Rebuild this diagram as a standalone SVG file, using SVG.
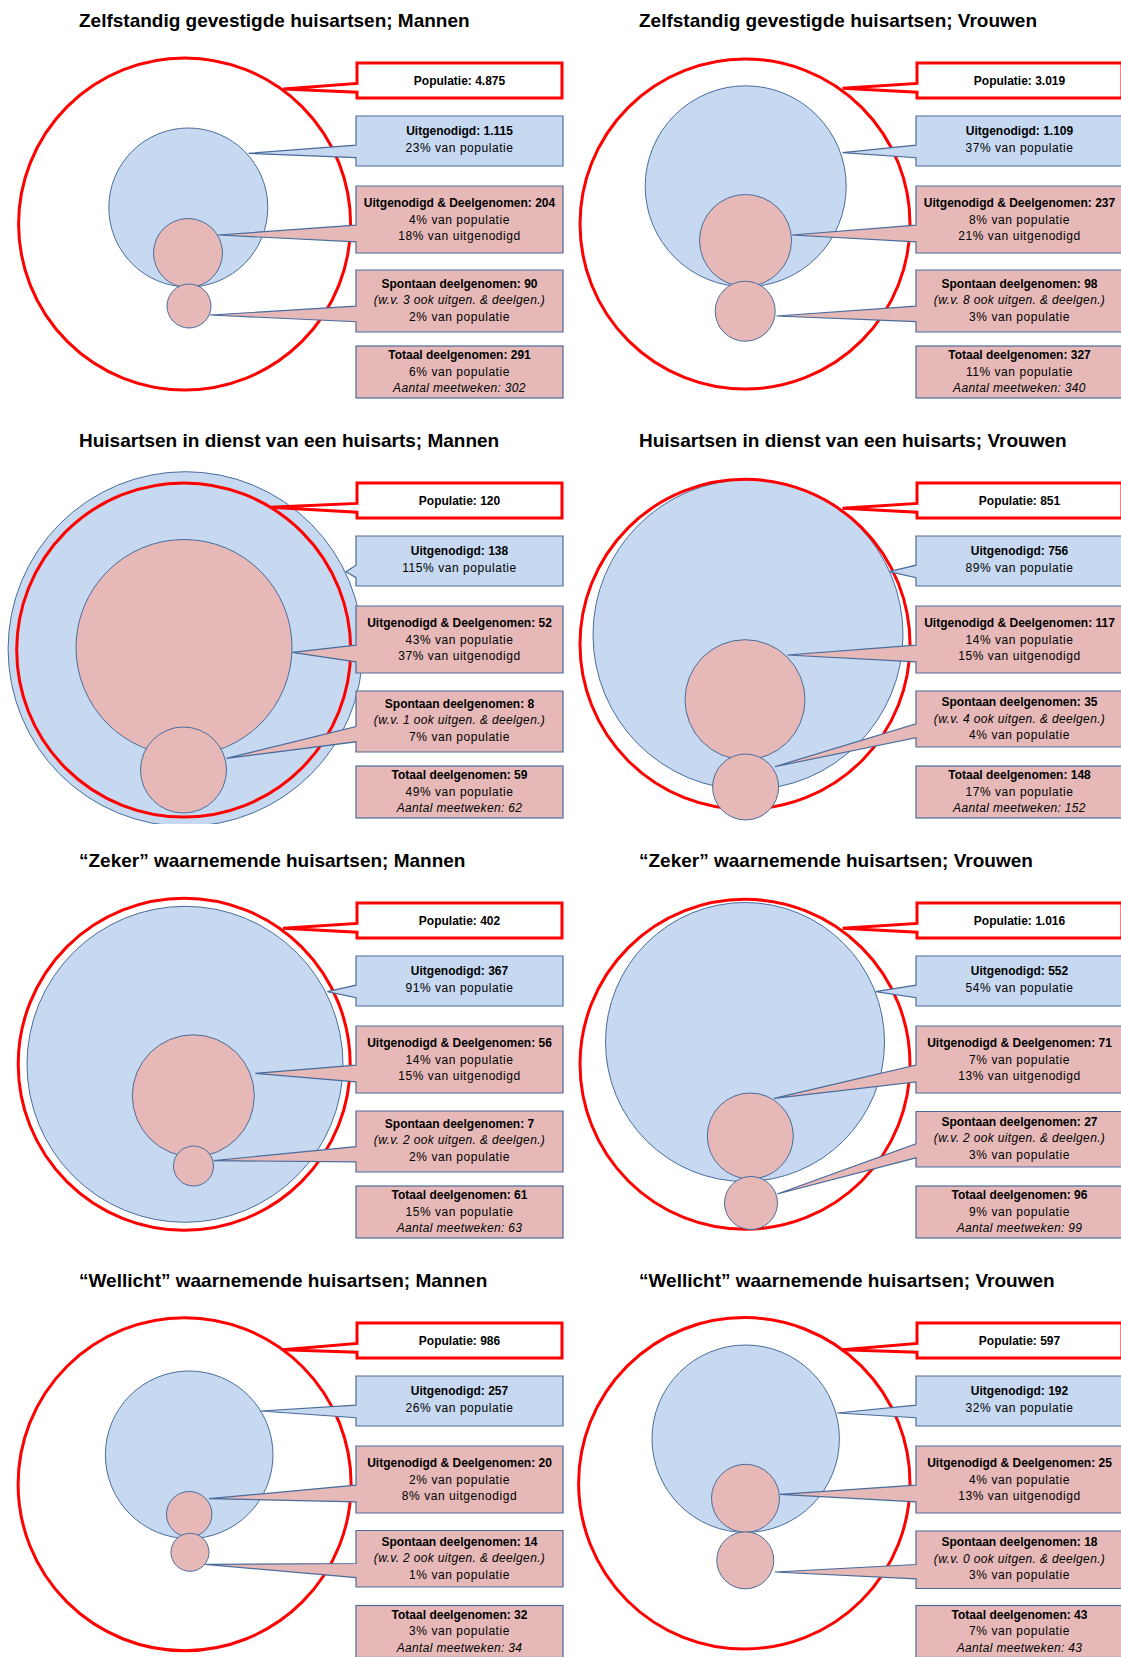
<svg xmlns="http://www.w3.org/2000/svg" width="1121" height="1657" viewBox="0 0 1121 1657">
<style>
text{font-family:'Liberation Sans',Arial,sans-serif;fill:#000}
.title{font-size:19px;font-weight:bold}
.b{font-size:12px;font-weight:bold;text-anchor:middle}
.r{font-size:12px;letter-spacing:0.55px;text-anchor:middle}
.i{font-size:12px;font-style:italic;letter-spacing:0.35px;text-anchor:middle}
.red{fill:none;stroke:#FF0000;stroke-width:3}
.blue{fill:#C6D9F1;stroke:#4A6C9B;stroke-width:1}
.pink{fill:#E6B9B8;stroke:#4A6C9B;stroke-width:1}
.popbox{fill:#FFFFFF;stroke:#FF0000;stroke-width:3;stroke-linejoin:miter}
.ubox{fill:#C6D9F1;stroke:#4A6C9B;stroke-width:1.2}
.pbox{fill:#E6B9B8;stroke:#4A6C9B;stroke-width:1.2}
</style>
<defs>
<clipPath id="rowclip"><rect x="-10" y="0" width="575" height="404"/></clipPath>
</defs>
<rect x="0" y="0" width="1121" height="1657" fill="#FFFFFF"/>

<!-- Panel 1 -->
<g id="panel-zelfstandig-mannen" transform="translate(0,0)">
<text class="title" x="79" y="26.7">Zelfstandig gevestigde huisartsen; Mannen</text>
<g id="p1-circles">
<circle class="blue" cx="188.3" cy="207.5" r="79.5"/>
<circle class="red" cx="184.6" cy="224" r="166"/>
<circle class="pink" cx="188" cy="253" r="34.5"/>
<circle class="pink" cx="189" cy="306" r="22"/>
</g>
<g id="p1-populatie"><path class="popbox" d="M357,63 H562 V98 H357 V92.2 L283.3,89 L357,83.4 Z"/><text class="b" x="459.5" y="84.5">Populatie: 4.875</text></g>
<g id="p1-uitgenodigd"><path class="ubox" d="M356,116 H563 V166 H356 V157.7 L248.5,153.3 L356,145.2 Z"/><text class="b" x="459.5" y="135">Uitgenodigd: 1.115</text><text class="r" x="459.5" y="151.7">23% van populatie</text></g>
<g id="p1-deelgenomen"><path class="pbox" d="M356,186 H563 V253 H356 V241.8 L218,235 L356,225.1 Z"/><text class="b" x="459.5" y="207">Uitgenodigd &amp; Deelgenomen: 204</text><text class="r" x="459.5" y="223.7">4% van populatie</text><text class="r" x="459.5" y="240.3">18% van uitgenodigd</text></g>
<g id="p1-spontaan"><path class="pbox" d="M356,270 H563 V332 H356 V321.7 L210,315 L356,306.2 Z"/><text class="b" x="459.5" y="287.5">Spontaan deelgenomen: 90</text><text class="i" x="459.5" y="304">(w.v. 3 ook uitgen. &amp; deelgen.)</text><text class="r" x="459.5" y="320.5">2% van populatie</text></g>
<g id="p1-totaal"><rect class="pbox" x="356" y="346" width="207" height="52"/><text class="b" x="459.5" y="359">Totaal deelgenomen: 291</text><text class="r" x="459.5" y="375.7">6% van populatie</text><text class="i" x="459.5" y="392.3">Aantal meetweken: 302</text></g>
</g>

<!-- Panel 2 -->
<g id="panel-zelfstandig-vrouwen" transform="translate(560,0)">
<text class="title" x="79" y="26.7">Zelfstandig gevestigde huisartsen; Vrouwen</text>
<g id="p2-circles">
<circle class="blue" cx="185.7" cy="186.3" r="100.5"/>
<circle class="red" cx="185" cy="224" r="165"/>
<circle class="pink" cx="185.5" cy="240.5" r="46"/>
<circle class="pink" cx="185.2" cy="311.2" r="30"/>
</g>
<g id="p2-populatie"><path class="popbox" d="M357,63 H562 V98 H357 V92.2 L282.6,88.3 L357,83.4 Z"/><text class="b" x="459.5" y="84.5">Populatie: 3.019</text></g>
<g id="p2-uitgenodigd"><path class="ubox" d="M356,116 H563 V166 H356 V157.7 L282.6,152.7 L356,145.2 Z"/><text class="b" x="459.5" y="135">Uitgenodigd: 1.109</text><text class="r" x="459.5" y="151.7">37% van populatie</text></g>
<g id="p2-deelgenomen"><path class="pbox" d="M356,186 H563 V253 H356 V241.8 L231.8,235 L356,225.1 Z"/><text class="b" x="459.5" y="207">Uitgenodigd &amp; Deelgenomen: 237</text><text class="r" x="459.5" y="223.7">8% van populatie</text><text class="r" x="459.5" y="240.3">21% van uitgenodigd</text></g>
<g id="p2-spontaan"><path class="pbox" d="M356,270 H563 V332 H356 V321.7 L216.5,316 L356,306.2 Z"/><text class="b" x="459.5" y="287.5">Spontaan deelgenomen: 98</text><text class="i" x="459.5" y="304">(w.v. 8 ook uitgen. &amp; deelgen.)</text><text class="r" x="459.5" y="320.5">3% van populatie</text></g>
<g id="p2-totaal"><rect class="pbox" x="356" y="346" width="207" height="52"/><text class="b" x="459.5" y="359">Totaal deelgenomen: 327</text><text class="r" x="459.5" y="375.7">11% van populatie</text><text class="i" x="459.5" y="392.3">Aantal meetweken: 340</text></g>
</g>

<!-- Panel 3 -->
<g id="panel-in-dienst-mannen" transform="translate(0,420)">
<text class="title" x="79" y="26.7">Huisartsen in dienst van een huisarts; Mannen</text>
<g id="p3-circles">
<circle class="blue" cx="185.4" cy="229" r="177.3" clip-path="url(#rowclip)"/>
<circle class="red" cx="183.7" cy="230" r="167"/>
<circle class="pink" cx="184" cy="227.5" r="108"/>
<circle class="pink" cx="183.5" cy="350" r="43"/>
</g>
<g id="p3-populatie"><path class="popbox" d="M357,63 H562 V98 H357 V92.2 L270,87.3 L357,83.4 Z"/><text class="b" x="459.5" y="84.5">Populatie: 120</text></g>
<g id="p3-uitgenodigd"><path class="ubox" d="M356,116 H563 V166 H356 V157.7 L346,151.7 L356,145.2 Z"/><text class="b" x="459.5" y="135">Uitgenodigd: 138</text><text class="r" x="459.5" y="151.7">115% van populatie</text></g>
<g id="p3-deelgenomen"><path class="pbox" d="M356,186 H563 V253 H356 V241.8 L292.3,232.3 L356,225.1 Z"/><text class="b" x="459.5" y="207">Uitgenodigd &amp; Deelgenomen: 52</text><text class="r" x="459.5" y="223.7">43% van populatie</text><text class="r" x="459.5" y="240.3">37% van uitgenodigd</text></g>
<g id="p3-spontaan"><path class="pbox" d="M356,271 H563 V332 H356 V321.8 L226.4,338.3 L356,306.6 Z"/><text class="b" x="459.5" y="287.5">Spontaan deelgenomen: 8</text><text class="i" x="459.5" y="304">(w.v. 1 ook uitgen. &amp; deelgen.)</text><text class="r" x="459.5" y="320.5">7% van populatie</text></g>
<g id="p3-totaal"><rect class="pbox" x="356" y="346" width="207" height="52"/><text class="b" x="459.5" y="359">Totaal deelgenomen: 59</text><text class="r" x="459.5" y="375.7">49% van populatie</text><text class="i" x="459.5" y="392.3">Aantal meetweken: 62</text></g>
</g>

<!-- Panel 4 -->
<g id="panel-in-dienst-vrouwen" transform="translate(560,420)">
<text class="title" x="79" y="26.7">Huisartsen in dienst van een huisarts; Vrouwen</text>
<g id="p4-circles">
<circle class="blue" cx="188" cy="214.7" r="155"/>
<circle class="red" cx="185" cy="224.3" r="165"/>
<circle class="pink" cx="185" cy="279.7" r="60"/>
<circle class="pink" cx="185.6" cy="367" r="33"/>
</g>
<g id="p4-populatie"><path class="popbox" d="M357,63 H562 V98 H357 V92.2 L282.6,88.3 L357,83.4 Z"/><text class="b" x="459.5" y="84.5">Populatie: 851</text></g>
<g id="p4-uitgenodigd"><path class="ubox" d="M356,116 H563 V166 H356 V157.7 L329.2,151.7 L356,145.2 Z"/><text class="b" x="459.5" y="135">Uitgenodigd: 756</text><text class="r" x="459.5" y="151.7">89% van populatie</text></g>
<g id="p4-deelgenomen"><path class="pbox" d="M356,186 H563 V253 H356 V241.8 L227.2,235 L356,225.1 Z"/><text class="b" x="459.5" y="207">Uitgenodigd &amp; Deelgenomen: 117</text><text class="r" x="459.5" y="223.7">14% van populatie</text><text class="r" x="459.5" y="240.3">15% van uitgenodigd</text></g>
<g id="p4-spontaan"><path class="pbox" d="M356,271 H563 V327 H356 V317.7 L214.7,346.7 L356,303.7 Z"/><text class="b" x="459.5" y="285.5">Spontaan deelgenomen: 35</text><text class="i" x="459.5" y="302.5">(w.v. 4 ook uitgen. &amp; deelgen.)</text><text class="r" x="459.5" y="319">4% van populatie</text></g>
<g id="p4-totaal"><rect class="pbox" x="356" y="346" width="207" height="52"/><text class="b" x="459.5" y="359">Totaal deelgenomen: 148</text><text class="r" x="459.5" y="375.7">17% van populatie</text><text class="i" x="459.5" y="392.3">Aantal meetweken: 152</text></g>
</g>

<!-- Panel 5 -->
<g id="panel-zeker-mannen" transform="translate(0,840)">
<text class="title" x="79" y="26.7">“Zeker” waarnemende huisartsen; Mannen</text>
<g id="p5-circles">
<circle class="blue" cx="185" cy="224.3" r="158"/>
<circle class="red" cx="184.2" cy="224.2" r="166"/>
<circle class="pink" cx="193.3" cy="255.8" r="61"/>
<circle class="pink" cx="193.5" cy="326" r="20"/>
</g>
<g id="p5-populatie"><path class="popbox" d="M357,63 H562 V98 H357 V92.2 L283,88.3 L357,83.4 Z"/><text class="b" x="459.5" y="84.5">Populatie: 402</text></g>
<g id="p5-uitgenodigd"><path class="ubox" d="M356,116 H563 V166 H356 V157.7 L327.4,151.7 L356,145.2 Z"/><text class="b" x="459.5" y="135">Uitgenodigd: 367</text><text class="r" x="459.5" y="151.7">91% van populatie</text></g>
<g id="p5-deelgenomen"><path class="pbox" d="M356,186 H563 V253 H356 V241.8 L255.3,233.3 L356,225.1 Z"/><text class="b" x="459.5" y="207">Uitgenodigd &amp; Deelgenomen: 56</text><text class="r" x="459.5" y="223.7">14% van populatie</text><text class="r" x="459.5" y="240.3">15% van uitgenodigd</text></g>
<g id="p5-spontaan"><path class="pbox" d="M356,271 H563 V332 H356 V321.8 L213.8,320.7 L356,306.6 Z"/><text class="b" x="459.5" y="287.5">Spontaan deelgenomen: 7</text><text class="i" x="459.5" y="304">(w.v. 2 ook uitgen. &amp; deelgen.)</text><text class="r" x="459.5" y="320.5">2% van populatie</text></g>
<g id="p5-totaal"><rect class="pbox" x="356" y="346" width="207" height="52"/><text class="b" x="459.5" y="359">Totaal deelgenomen: 61</text><text class="r" x="459.5" y="375.7">15% van populatie</text><text class="i" x="459.5" y="392.3">Aantal meetweken: 63</text></g>
</g>

<!-- Panel 6 -->
<g id="panel-zeker-vrouwen" transform="translate(560,840)">
<text class="title" x="79" y="26.7">“Zeker” waarnemende huisartsen; Vrouwen</text>
<g id="p6-circles">
<circle class="blue" cx="185" cy="202" r="139.5"/>
<circle class="red" cx="185" cy="224.3" r="165"/>
<circle class="pink" cx="190.3" cy="296" r="43"/>
<circle class="pink" cx="191" cy="363" r="26.5"/>
</g>
<g id="p6-populatie"><path class="popbox" d="M357,63 H562 V98 H357 V92.2 L282.6,88.3 L357,83.4 Z"/><text class="b" x="459.5" y="84.5">Populatie: 1.016</text></g>
<g id="p6-uitgenodigd"><path class="ubox" d="M356,116 H563 V166 H356 V157.7 L315.6,151.7 L356,145.2 Z"/><text class="b" x="459.5" y="135">Uitgenodigd: 552</text><text class="r" x="459.5" y="151.7">54% van populatie</text></g>
<g id="p6-deelgenomen"><path class="pbox" d="M356,186 H563 V253 H356 V241.8 L214,258.3 L356,225.1 Z"/><text class="b" x="459.5" y="207">Uitgenodigd &amp; Deelgenomen: 71</text><text class="r" x="459.5" y="223.7">7% van populatie</text><text class="r" x="459.5" y="240.3">13% van uitgenodigd</text></g>
<g id="p6-spontaan"><path class="pbox" d="M356,271.5 H563 V327 H356 V317.8 L217.2,354 L356,303.9 Z"/><text class="b" x="459.5" y="285.7">Spontaan deelgenomen: 27</text><text class="i" x="459.5" y="302.3">(w.v. 2 ook uitgen. &amp; deelgen.)</text><text class="r" x="459.5" y="318.5">3% van populatie</text></g>
<g id="p6-totaal"><rect class="pbox" x="356" y="346" width="207" height="52"/><text class="b" x="459.5" y="359">Totaal deelgenomen: 96</text><text class="r" x="459.5" y="375.7">9% van populatie</text><text class="i" x="459.5" y="392.3">Aantal meetweken: 99</text></g>
</g>

<!-- Panel 7 -->
<g id="panel-wellicht-mannen" transform="translate(0,1260)">
<text class="title" x="79" y="27">“Wellicht” waarnemende huisartsen; Mannen</text>
<g id="p7-circles">
<circle class="blue" cx="189.2" cy="194.8" r="83.8"/>
<circle class="red" cx="184.6" cy="224.2" r="166.5"/>
<circle class="pink" cx="189.2" cy="254.2" r="22.7"/>
<circle class="pink" cx="190" cy="292.3" r="19"/>
</g>
<g id="p7-populatie"><path class="popbox" d="M357,63 H562 V98 H357 V92.2 L283,89.7 L357,83.4 Z"/><text class="b" x="459.5" y="84.5">Populatie: 986</text></g>
<g id="p7-uitgenodigd"><path class="ubox" d="M356,116 H563 V166 H356 V157.7 L260.8,151 L356,145.2 Z"/><text class="b" x="459.5" y="135">Uitgenodigd: 257</text><text class="r" x="459.5" y="151.7">26% van populatie</text></g>
<g id="p7-deelgenomen"><path class="pbox" d="M356,186 H563 V253 H356 V241.8 L209,238.7 L356,225.1 Z"/><text class="b" x="459.5" y="207">Uitgenodigd &amp; Deelgenomen: 20</text><text class="r" x="459.5" y="223.7">2% van populatie</text><text class="r" x="459.5" y="240.3">8% van uitgenodigd</text></g>
<g id="p7-spontaan"><path class="pbox" d="M356,270.5 H563 V327 H356 V317.6 L205.3,304.3 L356,303.5 Z"/><text class="b" x="459.5" y="285.5">Spontaan deelgenomen: 14</text><text class="i" x="459.5" y="302.2">(w.v. 2 ook uitgen. &amp; deelgen.)</text><text class="r" x="459.5" y="318.8">1% van populatie</text></g>
<g id="p7-totaal"><rect class="pbox" x="356" y="345.5" width="207" height="52"/><text class="b" x="459.5" y="358.5">Totaal deelgenomen: 32</text><text class="r" x="459.5" y="375.2">3% van populatie</text><text class="i" x="459.5" y="391.8">Aantal meetweken: 34</text></g>
</g>

<!-- Panel 8 -->
<g id="panel-wellicht-vrouwen" transform="translate(560,1260)">
<text class="title" x="79" y="27">“Wellicht” waarnemende huisartsen; Vrouwen</text>
<g id="p8-circles">
<circle class="blue" cx="185.7" cy="178.7" r="93.7"/>
<circle class="red" cx="184.3" cy="223.3" r="165.7"/>
<circle class="pink" cx="185.5" cy="238.3" r="34"/>
<circle class="pink" cx="185.3" cy="300.3" r="28.5"/>
</g>
<g id="p8-populatie"><path class="popbox" d="M357,63 H562 V98 H357 V92.2 L282.6,89.7 L357,83.4 Z"/><text class="b" x="459.5" y="84.5">Populatie: 597</text></g>
<g id="p8-uitgenodigd"><path class="ubox" d="M356,116 H563 V166 H356 V157.7 L277.3,153 L356,145.2 Z"/><text class="b" x="459.5" y="135">Uitgenodigd: 192</text><text class="r" x="459.5" y="151.7">32% van populatie</text></g>
<g id="p8-deelgenomen"><path class="pbox" d="M356,186 H563 V253 H356 V241.8 L220,234.3 L356,225.1 Z"/><text class="b" x="459.5" y="207">Uitgenodigd &amp; Deelgenomen: 25</text><text class="r" x="459.5" y="223.7">4% van populatie</text><text class="r" x="459.5" y="240.3">13% van uitgenodigd</text></g>
<g id="p8-spontaan"><path class="pbox" d="M356,271 H563 V328.5 H356 V318.9 L214.7,312 L356,304.5 Z"/><text class="b" x="459.5" y="286">Spontaan deelgenomen: 18</text><text class="i" x="459.5" y="302.7">(w.v. 0 ook uitgen. &amp; deelgen.)</text><text class="r" x="459.5" y="319.3">3% van populatie</text></g>
<g id="p8-totaal"><rect class="pbox" x="356" y="345.5" width="207" height="52"/><text class="b" x="459.5" y="358.5">Totaal deelgenomen: 43</text><text class="r" x="459.5" y="375.2">7% van populatie</text><text class="i" x="459.5" y="391.8">Aantal meetweken: 43</text></g>
</g>
<g id="connectors"/>
</svg>
